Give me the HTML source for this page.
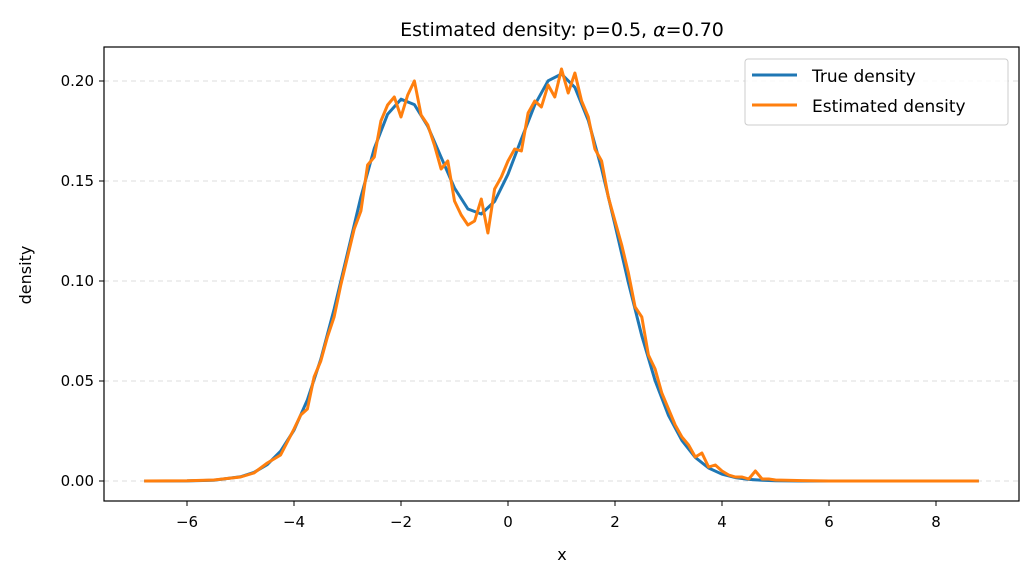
<!DOCTYPE html>
<html><head><meta charset="utf-8"><style>
body{margin:0;background:#fff;}
svg text{font-family:"DejaVu Sans","Liberation Sans",sans-serif;fill:#000;}
</style></head><body>
<svg id="chart" width="1034" height="580" xmlns="http://www.w3.org/2000/svg">
<text x="562" y="36" font-size="19" text-anchor="middle">Estimated density: p=0.5, <tspan font-style="italic">α</tspan>=0.70</text>
<g id="grid"></g>
<g id="series"></g>
<rect x="104" y="47" width="915" height="454" fill="none" stroke="#000" stroke-width="1.2"/>
<g id="ticks"></g>
<text x="562" y="560" font-size="16" text-anchor="middle">x</text>
<text x="31" y="275" font-size="16" text-anchor="middle" transform="rotate(-90 31 275)">density</text>
<g>
<rect x="745" y="59" width="263" height="66" rx="3" fill="#fff" fill-opacity="0.8" stroke="#ccc"/>
<line x1="752" y1="75" x2="797" y2="75" stroke="#1f77b4" stroke-width="3"/>
<text x="812" y="82" font-size="17">True density</text>
<line x1="752" y1="105" x2="797" y2="105" stroke="#ff7f0e" stroke-width="3"/>
<text x="812" y="112" font-size="17">Estimated density</text>
</g>
</svg>
<script>
const xTicks=[-6,-4,-2,0,2,4,6,8];
const yTicks=[0,0.05,0.10,0.15,0.20];
const yTickLabels=["0.00","0.05","0.10","0.15","0.20"];
const trueX=[-6.8,-6,-5.5,-5,-4.75,-4.5,-4.25,-4,-3.75,-3.5,-3.25,-3,-2.75,-2.5,-2.25,-2,-1.75,-1.5,-1.25,-1,-0.75,-0.5,-0.25,0,0.25,0.5,0.75,1,1.25,1.5,1.75,2,2.25,2.5,2.75,3,3.25,3.5,3.75,4,4.25,4.5,4.75,5,5.5,6,8.8];
const trueY=[0,0.00006,0.0004,0.0021,0.0043,0.0082,0.0149,0.0254,0.0406,0.0609,0.0859,0.1139,0.142,0.1663,0.1834,0.1909,0.1882,0.1773,0.1619,0.1465,0.136,0.1335,0.1398,0.1534,0.171,0.1881,0.2001,0.2035,0.1968,0.1803,0.1562,0.1281,0.0992,0.0726,0.0502,0.0328,0.0203,0.0118,0.0065,0.0034,0.0017,0.0008,0.00034,0.00014,0.00002,0,0];
const estX=[-6.8,-6,-5.5,-5,-4.75,-4.5,-4.25,-4,-3.875,-3.75,-3.625,-3.5,-3.375,-3.25,-3.125,-3,-2.875,-2.75,-2.625,-2.5,-2.375,-2.25,-2.125,-2,-1.875,-1.75,-1.625,-1.5,-1.375,-1.25,-1.125,-1,-0.875,-0.75,-0.625,-0.5,-0.375,-0.25,-0.125,0,0.125,0.25,0.375,0.5,0.625,0.75,0.875,1,1.125,1.25,1.375,1.5,1.625,1.75,1.875,2,2.125,2.25,2.375,2.5,2.625,2.75,2.875,3,3.125,3.25,3.375,3.5,3.625,3.75,3.875,4,4.125,4.25,4.375,4.5,4.625,4.75,4.875,5,5.5,6,8.8];
const estY=[0,0.0001,0.0005,0.002,0.004,0.009,0.013,0.026,0.033,0.036,0.052,0.060,0.072,0.082,0.098,0.112,0.126,0.135,0.158,0.162,0.180,0.188,0.192,0.182,0.193,0.200,0.183,0.178,0.168,0.156,0.160,0.140,0.133,0.128,0.130,0.141,0.124,0.146,0.152,0.160,0.166,0.165,0.184,0.190,0.187,0.198,0.192,0.206,0.194,0.204,0.190,0.182,0.166,0.160,0.142,0.130,0.118,0.104,0.087,0.082,0.063,0.056,0.044,0.036,0.028,0.022,0.018,0.012,0.014,0.007,0.008,0.005,0.003,0.002,0.002,0.001,0.005,0.001,0.001,0.0005,0.0002,0,0];

const NS="http://www.w3.org/2000/svg";
const sx=v=>508+v*53.5;
const sy=v=>481-v*2000;
const grid=document.getElementById('grid'),ticks=document.getElementById('ticks'),series=document.getElementById('series');
function mk(tag,attrs,parent){const e=document.createElementNS(NS,tag);for(const k in attrs)e.setAttribute(k,attrs[k]);parent.appendChild(e);return e;}
yTicks.forEach((v,i)=>{
  const g=mk('line',{x1:104,x2:1019,y1:sy(v),y2:sy(v),stroke:'#ddd','stroke-dasharray':'5,4','stroke-width':1},grid);
  
  
  const t=mk('line',{x1:99,x2:104,y1:sy(v),y2:sy(v),stroke:'#000'},ticks);
  
  
  const l=mk('text',{x:94,y:sy(v)+5,'font-size':15,'text-anchor':'end'},ticks);
  l.textContent=yTickLabels[i];
  
  
});
xTicks.forEach(v=>{
  const t=mk('line',{x1:sx(v),x2:sx(v),y1:501,y2:506,stroke:'#000'},ticks);
  
  
  const l=mk('text',{x:sx(v),y:527,'font-size':15,'text-anchor':'middle'},ticks);
  l.textContent=(v<0?'−'+(-v):String(v));
  
  
});
function path(xs,ys){return xs.map((x,i)=>(i?'L':'M')+sx(x).toFixed(1)+','+sy(ys[i]).toFixed(1)).join('');}
const p1=mk('path',{d:path(trueX,trueY),fill:'none',stroke:'#1f77b4','stroke-width':3,'stroke-linejoin':'round'},series);


const p2=mk('path',{d:path(estX,estY),fill:'none',stroke:'#ff7f0e','stroke-width':3,'stroke-linejoin':'round'},series);


</script>
</body></html>
